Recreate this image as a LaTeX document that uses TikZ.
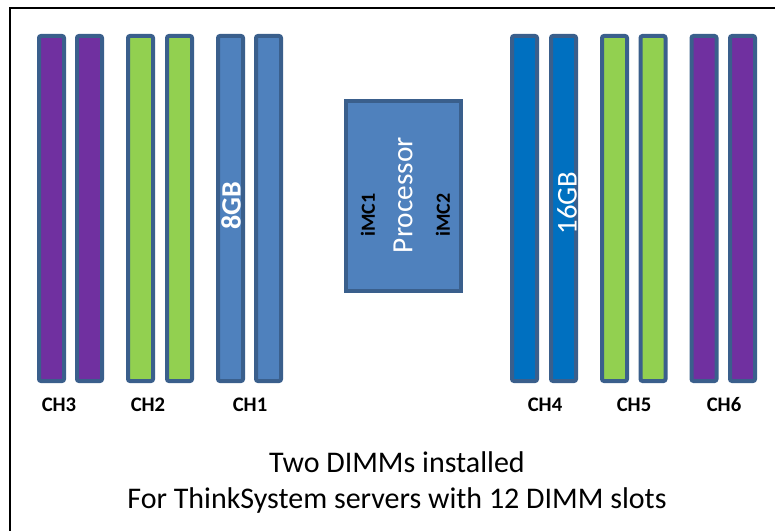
\documentclass[tikz,border=0pt]{standalone}
\usepackage{fontspec}
\setmainfont{Carlito}
\definecolor{morado}{HTML}{7030A0}
\definecolor{verde}{HTML}{92D050}
\definecolor{azulclaro}{HTML}{4F81BD}
\definecolor{azul}{HTML}{0070C0}
\definecolor{borde}{HTML}{3A5F8C}
\tikzset{
  slot/.style={draw=borde, line width=3pt, rounded corners=1.5pt,
    minimum width=18.75pt, minimum height=258.75pt, inner sep=0pt},
  chlabel/.style={font=\fontsize{15.5}{18}\selectfont\bfseries},
  vlabel/.style={rotate=90, inner sep=0pt}
}
\begin{document}
\begin{tikzpicture}[x=0.75pt, y=-0.75pt]
  \useasboundingbox (0,0) rectangle (775,531);
  % Marco
  \draw[line width=1.5pt] (9.5,531) -- (9.5,8) -- (775,8);

  % Ranuras izquierda
  \node[slot, fill=morado] (s1) at (51.5,208.5) {};
  \node[slot, fill=morado] (s2) at (89.5,208.5) {};
  \node[slot, fill=verde] (s3) at (140.5,208.5) {};
  \node[slot, fill=verde] (s4) at (179.5,208.5) {};
  \node[slot, fill=azulclaro] (s5) at (230.5,208.5) {};
  \node[slot, fill=azulclaro] (s6) at (268.5,208.5) {};

  % Ranuras derecha
  \node[slot, fill=azul] (s7) at (524.5,208.5) {};
  \node[slot, fill=azul] (s8) at (563.5,208.5) {};
  \node[slot, fill=verde] (s9) at (614.5,208.5) {};
  \node[slot, fill=verde] (s10) at (653,208.5) {};
  \node[slot, fill=morado] (s11) at (704,208.5) {};
  \node[slot, fill=morado] (s12) at (742.5,208.5) {};

  % Procesador
  \node[draw=borde, line width=3pt, fill=azulclaro, minimum width=86.25pt,
    minimum height=142.5pt, inner sep=0pt] (cpu) at (403.5,196) {};
  \node[vlabel, text=white, font=\fontsize{22}{26}\selectfont] (proc) at (403,195) {Processor};
  \node[vlabel, font=\fontsize{15}{18}\selectfont\bfseries] (imc1) at (368,215) {iMC1};
  \node[vlabel, font=\fontsize{15}{18}\selectfont\bfseries] (imc2) at (443,215) {iMC2};

  % Capacidades
  \node[vlabel, text=white, font=\fontsize{21}{25}\selectfont\bfseries] (gb8) at (231,206) {8GB};
  \node[vlabel, text=white, font=\fontsize{21.5}{25}\selectfont] (gb16) at (567,203) {16GB};

  % Canales
  \node[chlabel] (ch3) at (59,405) {CH3};
  \node[chlabel] (ch2) at (148,405) {CH2};
  \node[chlabel] (ch1) at (250,405) {CH1};
  \node[chlabel] (ch4) at (545,405) {CH4};
  \node[chlabel] (ch5) at (634,405) {CH5};
  \node[chlabel] (ch6) at (724,405) {CH6};

  % Texto
  \node[align=center, font=\fontsize{22.5}{27}\selectfont] (caption) at (397,482)
    {Two DIMMs installed\\For ThinkSystem servers with 12 DIMM slots};
\end{tikzpicture}
\end{document}
